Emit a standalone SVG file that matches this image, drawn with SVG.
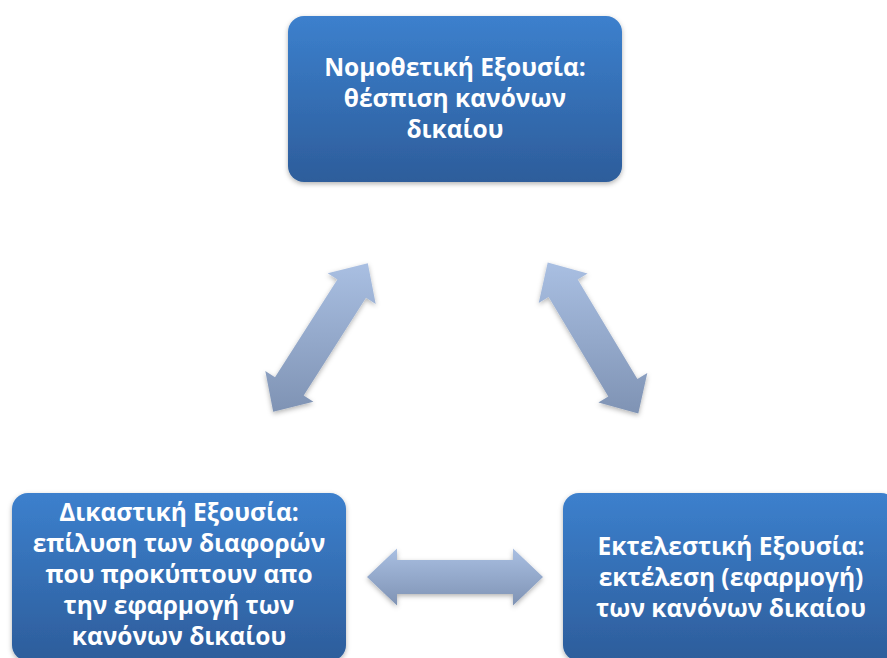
<svg xmlns="http://www.w3.org/2000/svg" width="887" height="658" viewBox="0 0 887 658">
<defs>
<linearGradient id="boxg" x1="0" y1="0" x2="0" y2="1">
<stop offset="0" stop-color="#3c80cd"/>
<stop offset="1" stop-color="#2d5d9b"/>
</linearGradient>
<linearGradient id="arrg" x1="0" y1="0" x2="0" y2="1">
<stop offset="0" stop-color="#a9bfe2"/>
<stop offset="1" stop-color="#7f93b4"/>
</linearGradient>
<filter id="sh" x="-20%" y="-20%" width="140%" height="140%">
<feDropShadow dx="0" dy="2" stdDeviation="2.5" flood-color="#000" flood-opacity="0.3"/>
</filter>
</defs>
<style>
.box{fill:url(#boxg);filter:url(#sh)}
.arr{fill:url(#arrg);filter:url(#sh)}
.t{font-family:"Open Sans","Noto Sans","DejaVu Sans",sans-serif;font-weight:bold;font-size:24.5px;fill:#fff;text-anchor:middle}
</style>
<rect width="887" height="658" fill="#fff"/>
<g id="connectors">
<path class="arr" d="M273.2,411.7 L265.3,371.1 L275.0,377.3 L337.4,279.5 L327.7,273.3 L367.8,263.3 L375.7,303.9 L366.0,297.7 L303.7,395.6 L313.4,401.7 Z"/>
<path class="arr" d="M638.3,413.4 L598.4,402.4 L608.3,396.5 L548.6,297.0 L538.7,303.0 L547.7,262.6 L587.6,273.6 L577.7,279.6 L637.4,379.0 L647.3,373.1 Z"/>
<path class="arr" d="M367,577 L397,548.5 L397,560 L513,560 L513,548.5 L543,577 L513,605.5 L513,594 L397,594 L397,605.5 Z"/>
</g>
<g id="legislative">
<rect class="box" x="288" y="16" width="334" height="166" rx="16"/>
<text class="t" x="455" y="76">Νομοθετική Εξουσία:</text>
<text class="t" x="455" y="107">θέσπιση κανόνων</text>
<text class="t" x="455" y="138">δικαίου</text>
</g>
<g id="judicial">
<rect class="box" x="12" y="493" width="334" height="168" rx="16"/>
<text class="t" x="179" y="521">Δικαστική Εξουσία:</text>
<text class="t" x="179" y="552">επίλυση των διαφορών</text>
<text class="t" x="179" y="583">που προκύπτουν απο</text>
<text class="t" x="179" y="614">την εφαρμογή των</text>
<text class="t" x="179" y="645">κανόνων δικαίου</text>
</g>
<g id="executive">
<rect class="box" x="563" y="493" width="334" height="168" rx="16"/>
<text class="t" x="731" y="555">Εκτελεστική Εξουσία:</text>
<text class="t" x="731" y="586">εκτέλεση (εφαρμογή)</text>
<text class="t" x="731" y="617">των κανόνων δικαίου</text>
</g>
</svg>
